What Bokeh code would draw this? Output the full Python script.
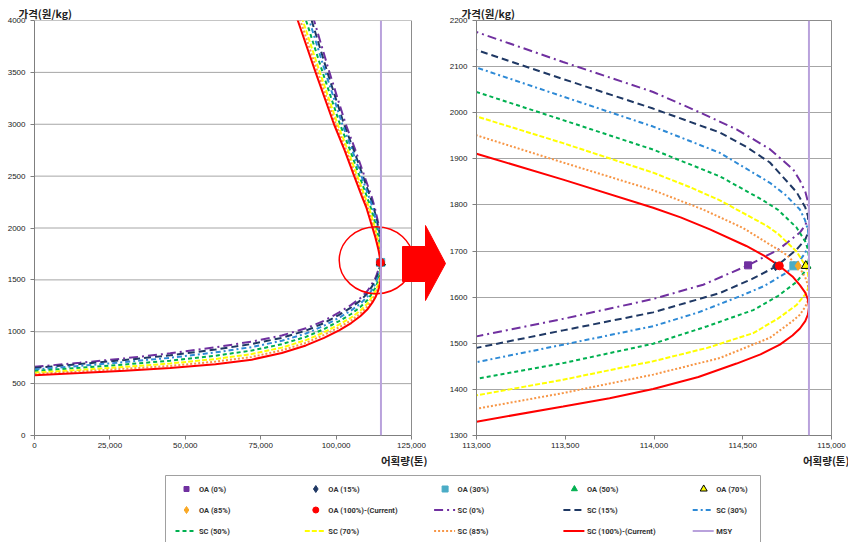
from bokeh.plotting import figure
from bokeh.models import Range1d, FixedTicker, NumeralTickFormatter, Title, Span
from bokeh.layouts import column, row
from bokeh.embed import file_html
from bokeh.resources import INLINE
from bokeh.core.properties import value

# ---------------- data ----------------
MSY = 114873

# lower branch, shared quantity grid (left chart)
LOW_Q = [0, 15000, 30000, 45000, 60000, 72000, 82000, 90000, 96000, 101000, 105000, 108000, 110500, 112000]
# upper branch, shared price grid (left chart)
UP_P = [2200, 2300, 2500, 2750, 3000, 3500, 4000, 4300]

SC0_LOW_P = [662, 701, 744, 792, 850, 905, 964, 1033, 1106, 1186, 1259, 1323, 1397, 1467]
SC0_Q = [113000, 113488, 113995, 114277, 114530, 114700, 114822, 114852, 114867, 114873, 114868, 114853, 114822, 114784, 114653, 114465, 114239, 113995, 113488, 113000]
SC0_P = [1515, 1553, 1596, 1627, 1669, 1703, 1740, 1756, 1770, 1785, 1806, 1828, 1853, 1877, 1921, 1964, 2004, 2045, 2110, 2175]
SC0_UP_Q = [112800, 111800, 109400, 106400, 103200, 97800, 92700, 89300]

SC15_LOW_P = [651, 688, 728, 773, 828, 882, 941, 1011, 1084, 1163, 1235, 1300, 1373, 1442]
SC15_Q = [113000, 113488, 113995, 114371, 114550, 114690, 114803, 114852, 114867, 114873, 114867, 114852, 114803, 114653, 114520, 114371, 113995, 113488, 113000]
SC15_P = [1490, 1528, 1567, 1609, 1639, 1667, 1703, 1725, 1739, 1755, 1776, 1795, 1828, 1892, 1926, 1957, 2009, 2073, 2136]
SC15_UP_Q = [112450, 111330, 108900, 105870, 102620, 97120, 91900, 88490]

SC30_LOW_P = [637, 671, 708, 749, 801, 852, 913, 983, 1058, 1135, 1205, 1270, 1343, 1410]
SC30_Q = [113000, 113488, 113995, 114250, 114484, 114620, 114746, 114822, 114852, 114867, 114873, 114867, 114850, 114822, 114740, 114653, 114371, 113995, 113488, 113000]
SC30_P = [1459, 1497, 1537, 1567, 1602, 1624, 1653, 1680, 1696, 1710, 1725, 1746, 1768, 1790, 1822, 1848, 1913, 1970, 2035, 2098]
SC30_UP_Q = [112100, 110870, 108410, 105350, 102060, 96460, 91120, 87690]

SC50_LOW_P = [622, 652, 685, 721, 769, 819, 880, 951, 1026, 1103, 1171, 1237, 1309, 1374]
SC50_Q = [113000, 113488, 113995, 114300, 114559, 114700, 114803, 114852, 114867, 114873, 114867, 114852, 114803, 114700, 114615, 114371, 113995, 113488, 113000]
SC50_P = [1423, 1457, 1499, 1537, 1572, 1603, 1633, 1657, 1670, 1685, 1704, 1721, 1751, 1789, 1810, 1862, 1920, 1984, 2045]
SC50_UP_Q = [111450, 110230, 107730, 104630, 101280, 95540, 90040, 86590]

SC70_LOW_P = [606, 632, 662, 694, 737, 785, 847, 919, 995, 1070, 1137, 1203, 1275, 1338]
SC70_Q = [113000, 113488, 113995, 114300, 114559, 114700, 114803, 114852, 114867, 114873, 114867, 114852, 114803, 114700, 114634, 114371, 114200, 113995, 113488, 113000]
SC70_P = [1387, 1421, 1461, 1490, 1522, 1554, 1583, 1606, 1618, 1633, 1652, 1669, 1699, 1737, 1755, 1810, 1839, 1870, 1934, 1992]
SC70_UP_Q = [110900, 109580, 107040, 103900, 100500, 94610, 88960, 85490]

SC85_LOW_P = [593, 617, 643, 671, 712, 757, 821, 893, 970, 1043, 1109, 1175, 1247, 1308]
SC85_Q = [113000, 113488, 113995, 114371, 114653, 114780, 114822, 114852, 114867, 114873, 114867, 114852, 114822, 114746, 114502, 114277, 113995, 113488, 113000]
SC85_P = [1358, 1392, 1432, 1468, 1512, 1548, 1562, 1579, 1592, 1607, 1626, 1643, 1663, 1692, 1750, 1790, 1832, 1892, 1951]
SC85_UP_Q = [110450, 109100, 106530, 103360, 99900, 93910, 88140, 84650]

SC100_LOW_P = [581, 602, 625, 650, 687, 731, 795, 868, 941, 1014, 1084, 1149, 1220, 1280]
SC100_Q = [113000, 113488, 113750, 113995, 114250, 114465, 114600, 114709, 114780, 114822, 114852, 114867, 114873,
           114867, 114852, 114822, 114780, 114709, 114620, 114520, 114315, 114150, 113995, 113488, 113000]
SC100_P = [1330, 1363, 1381, 1401, 1427, 1456, 1476, 1497, 1517, 1532, 1548, 1562, 1578,
           1595, 1610, 1626, 1645, 1667, 1690, 1711, 1747, 1773, 1794, 1855, 1911]
SC100_UP_Q = [110000, 108600, 106000, 102800, 99300, 93200, 87300, 83800]

SC_LABELS = ["SC (0%)", "SC (15%)", "SC (30%)", "SC (50%)", "SC (70%)", "SC (85%)", "SC (100%)-(Current)"]

OA_LABELS = ["OA (0%)", "OA (15%)", "OA (30%)", "OA (50%)", "OA (70%)", "OA (85%)", "OA (100%)-(Current)"]
OA_Q = [114530, 114685, 114788, 114862, 114855, 114812, 114706]
OA_P = [1669, 1667, 1668, 1668, 1668, 1668, 1668]

LEFT_X_TICKS = [0, 25000, 50000, 75000, 100000, 125000]
LEFT_Y_TICKS = [0, 500, 1000, 1500, 2000, 2500, 3000, 3500, 4000]
RIGHT_X_TICKS = [113000, 113500, 114000, 114500, 115000]
RIGHT_Y_TICKS = [1300, 1400, 1500, 1600, 1700, 1800, 1900, 2000, 2100, 2200]

# ---------------- styles ----------------
SC_DATA = [
    (SC0_LOW_P, SC0_Q, SC0_P, SC0_UP_Q),
    (SC15_LOW_P, SC15_Q, SC15_P, SC15_UP_Q),
    (SC30_LOW_P, SC30_Q, SC30_P, SC30_UP_Q),
    (SC50_LOW_P, SC50_Q, SC50_P, SC50_UP_Q),
    (SC70_LOW_P, SC70_Q, SC70_P, SC70_UP_Q),
    (SC85_LOW_P, SC85_Q, SC85_P, SC85_UP_Q),
    (SC100_LOW_P, SC100_Q, SC100_P, SC100_UP_Q),
]
SC_STYLE = [
    ("#7030A0", "9 4 2 4"),
    ("#1F3864", "7 4"),
    ("#2E8AD6", "5 3 2 3"),
    ("#00B050", "4 3"),
    ("#FFFF00", "5 2"),
    ("#F79646", "2 2"),
    ("#FF0000", "solid"),
]
OA_STYLE = [
    ("square", "#7030A0", "#7030A0", 7),
    ("diamond", "#1F3864", "#1F3864", 9),
    ("square", "#4BACC6", "#4BACC6", 8),
    ("triangle", "#00B050", "#00B050", 8),
    ("triangle", "#FFFF00", "#000000", 9),
    ("diamond", "#F9A825", "#F9A825", 9),
    ("circle", "#FF0000", "#FF0000", 8),
]
MSY_COLOR = "#B9A2DC"
GRID_COLOR = "#A6A6A6"
BORDER_COLOR = "#8C8C8C"
KFONT = "Noto Sans CJK KR"
TFONT = "Liberation Sans"

# layout geometry (pixels)
L_FRAME_W, R_FRAME_W, FRAME_H = 377, 355, 415
L_EXTRA = 35           # left frame is widened to the right to hold the block arrow
L_XMAX = 125000
L_XEND = L_XMAX * (L_FRAME_W + L_EXTRA) / L_FRAME_W
TOP = 20
BOTTOM = 34


def curve_xy(low_p, zq, zp, up_q):
    return LOW_Q + zq + up_q, low_p + zp + UP_P


def style_axes(p):
    for ax in p.axis:
        ax.major_label_text_font = TFONT
        ax.major_label_text_font_size = "8px"
        ax.major_label_text_color = "#222222"
        ax.axis_line_color = "#7F7F7F"
        ax.major_tick_line_color = "#7F7F7F"
        ax.major_tick_out = 4
        ax.major_tick_in = 0
        ax.minor_tick_line_color = None
    p.yaxis.major_label_standoff = 5
    p.xaxis.major_label_standoff = 3
    p.xaxis.formatter = NumeralTickFormatter(format="0,0")


def add_labels(p, ylab_off, xlab_off):
    p.title.text = "가격(원/kg)"
    p.title.align = "left"
    p.title.offset = ylab_off
    p.title.standoff = 0
    p.title.text_font = KFONT
    p.title.text_font_size = "10.5px"
    p.title.text_font_style = "bold"
    p.title.text_color = "#222222"
    p.title.text_line_height = 1.0
    p.add_layout(Title(text="어획량(톤)", align="right", offset=xlab_off, standoff=1,
                       text_font=KFONT, text_font_size="10.5px", text_font_style="bold",
                       text_color="#222222", text_line_height=1.0), "below")


def draw_series(p):
    for (low_p, zq, zp, up_q), (col, dash) in zip(SC_DATA, SC_STYLE):
        xs, ys = curve_xy(low_p, zq, zp, up_q)
        p.line(xs, ys, line_color=col, line_width=2, line_dash=dash)
    p.add_layout(Span(location=MSY, dimension="height", line_color=MSY_COLOR, line_width=2))
    for q, pr, (mk, fc, lc, sz) in zip(OA_Q, OA_P, OA_STYLE):
        p.scatter([q], [pr], marker=mk, size=sz, fill_color=fc, line_color=lc, line_width=1)


# ---------------- left chart ----------------
p1 = figure(x_range=Range1d(0, L_XEND), y_range=Range1d(0, 4000),
            frame_width=L_FRAME_W + L_EXTRA, frame_height=FRAME_H,
            min_border=0, min_border_left=34, min_border_right=0, min_border_top=TOP, min_border_bottom=BOTTOM,
            output_backend="svg", toolbar_location=None,
            background_fill_color="white", border_fill_color="white")
p1.outline_line_color = None
p1.xaxis.ticker = FixedTicker(ticks=LEFT_X_TICKS)
p1.yaxis.ticker = FixedTicker(ticks=LEFT_Y_TICKS)
p1.xaxis.bounds = (0, L_XMAX)
p1.grid.visible = False
style_axes(p1)
add_labels(p1, -16, 19)

gy = LEFT_Y_TICKS[1:-1]
p1.segment(x0=[0] * len(gy), y0=gy, x1=[L_XMAX] * len(gy), y1=gy, line_color=GRID_COLOR, line_width=1)
p1.segment(x0=[0, L_XMAX], y0=[4000, 0], x1=[L_XMAX, L_XMAX], y1=[4000, 4000],
           line_color=BORDER_COLOR, line_width=1)
draw_series(p1)

# highlight ellipse around the OA cluster
p1.ellipse(x=[113300], y=[1690], width=74, height=67, width_units="screen", height_units="screen",
           fill_alpha=0, line_color="#FF0000", line_width=1.5)

# block arrow (page pixels converted to left-chart data units)
ARROW_PX = [402, 425, 425, 445, 425, 425, 402]
ARROW_PY = [246, 246, 225, 263, 300, 281, 281]
arrow_x = [(px - 34) * L_XMAX / L_FRAME_W for px in ARROW_PX]
arrow_y = [(TOP + FRAME_H - py) * 4000 / FRAME_H for py in ARROW_PY]
p1.patch(arrow_x, arrow_y, fill_color="#FF0000", line_color="#FF0000", line_width=1)

# ---------------- right chart ----------------
p2 = figure(x_range=Range1d(113000, 115000), y_range=Range1d(1300, 2200),
            frame_width=R_FRAME_W, frame_height=FRAME_H,
            min_border=0, min_border_left=27, min_border_right=20, min_border_top=TOP, min_border_bottom=BOTTOM,
            output_backend="svg", toolbar_location=None,
            background_fill_color="white", border_fill_color="white")
p2.outline_line_color = BORDER_COLOR
p2.xaxis.ticker = FixedTicker(ticks=RIGHT_X_TICKS)
p2.yaxis.ticker = FixedTicker(ticks=RIGHT_Y_TICKS)
p2.xgrid.visible = False
p2.ygrid.grid_line_color = GRID_COLOR
style_axes(p2)
add_labels(p2, -15, -18)
draw_series(p2)

# ---------------- legend (separate panel, page-pixel coordinates) ----------------
LEG_TOP = TOP + FRAME_H + BOTTOM
pl = figure(width=848, height=542 - LEG_TOP, x_range=Range1d(0, 848), y_range=Range1d(542, LEG_TOP),
            min_border=0, toolbar_location=None, output_backend="svg",
            x_axis_type=None, y_axis_type=None, outline_line_color=None,
            background_fill_color="white", border_fill_color="white")
pl.grid.visible = False
pl.quad(left=[165], right=[760], top=[475], bottom=[600], fill_color="white",
        line_color="#A0A0A0", line_width=1)

LEG_X0, LEG_DX, LEG_Y0, LEG_DY = 186, 129.3, 488.5, 21
leg_labels = OA_LABELS + SC_LABELS + ["MSY"]
tx, ty = [], []
for i, lab in enumerate(leg_labels):
    cx = LEG_X0 + (i % 5) * LEG_DX
    cy = LEG_Y0 + (i // 5) * LEG_DY
    tx.append(cx + 12.5)
    ty.append(cy)
    if i < 7:
        mk, fc, lc, sz = OA_STYLE[i]
        pl.scatter([cx], [cy], marker=mk, size=sz - 2, fill_color=fc, line_color=lc, line_width=1)
    elif i < 14:
        col, dash = SC_STYLE[i - 7]
        pl.line([cx - 11, cx + 10], [cy, cy], line_color=col, line_width=2, line_dash=dash)
    else:
        pl.line([cx - 11, cx + 10], [cy, cy], line_color=MSY_COLOR, line_width=2)
pl.text(x=tx, y=ty, text=leg_labels, text_font=value("Roboto"), text_font_size=value("7.5px"),
        text_font_style="bold", text_baseline="middle", text_align="left", text_color="#333333")

layout = column(row(p1, p2), pl)
open("out.html", "w").write(file_html(layout, INLINE))
